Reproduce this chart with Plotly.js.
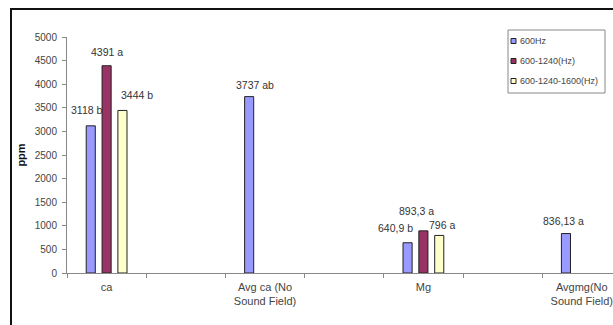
<!DOCTYPE html>
<html>
<head>
<meta charset="utf-8">
<script src="https://cdn.plot.ly/plotly-3.0.1.min.js"></script>
<style>
html,body{margin:0;padding:0;overflow:hidden;background:#fff;}
#chart{position:absolute;left:0;top:0;width:613px;height:325px;}
#frame{position:absolute;left:10px;top:8px;width:700px;height:400px;border-left:2px solid #111;border-top:2px solid #111;pointer-events:none;}
</style>
</head>
<body>
<div id="chart"></div>
<div id="frame"></div>
<script>
// ---- data ----
const categories = ["ca", "Avg ca (No<br>Sound Field)", "Mg", "Avgmg(No<br>Sound Field)"];
const seriesNames = ["600Hz", "600-1240(Hz)", "600-1240-1600(Hz)"];
const values600 = [3118, 3737, 640.9, 836.13];
const values1240 = [4391, null, 893.3, null];
const values1600 = [3444, null, 796, null];
const labels600 = ["3118 b", "3737 ab", "640,9 b", "836,13 a"];
const labels1240 = ["4391 a", null, "893,3 a", null];
const labels1600 = ["3444 b", null, "796 a", null];
const yTicks = [0, 500, 1000, 1500, 2000, 2500, 3000, 3500, 4000, 4500, 5000];

// ---- style ----
const colors = ["#9999FF", "#993366", "#FFFFCC"];
const barWidth = 0.115;
const barCenterOffsets = [-0.2, 0, 0.2];
// label pixel nudges [dx, dy] per series per category (style only)
const labelNudges = [
  [[-4, 16], [6, 12], [-12, 15], [-2, 13]],
  [[0, 14], null, [-7, 20], null],
  [[15, 15], null, [3, 10], null]
];

const slotPos = categories.map((c, i) => 2 * i + 0.5);
const allValues = [values600, values1240, values1600];
const allLabels = [labels600, labels1240, labels1600];

const traces = allValues.map((vals, s) => {
  const xs = [], ys = [];
  vals.forEach((v, i) => { if (v !== null) { xs.push(slotPos[i]); ys.push(v); } });
  return {
    type: "bar", name: seriesNames[s], x: xs, y: ys,
    width: barWidth, offset: barCenterOffsets[s] - barWidth / 2,
    marker: {color: colors[s], line: {color: "#222", width: 1}},
    showlegend: false, hoverinfo: "skip"
  };
});

const annotations = [];
allValues.forEach((vals, s) => {
  vals.forEach((v, i) => {
    if (v === null) return;
    const n = labelNudges[s][i];
    annotations.push({
      x: slotPos[i] + barCenterOffsets[s], y: v, xref: "x", yref: "y",
      text: allLabels[s][i], showarrow: false, xanchor: "center", yanchor: "middle",
      xshift: n[0], yshift: n[1],
      font: {family: "Liberation Sans, Arial, sans-serif", size: 10.5, color: "#333"}
    });
  });
});

// plot area in pixels
const L = 67, T = 37, W = 613 - 67, H = 273 - 37;
const px = x => (x - L) / W;
const py = y => (T + H - y) / H;

const shapes = [{
  type: "rect", xref: "paper", yref: "paper",
  x0: px(508), x1: px(605), y0: py(93), y1: py(30),
  line: {color: "#888", width: 1}, fillcolor: "#fff"
}];
const legendY = [41, 61, 81];
seriesNames.forEach((nm, s) => {
  shapes.push({
    type: "rect", xref: "paper", yref: "paper",
    x0: px(511), x1: px(516), y0: py(legendY[s] + 2.5), y1: py(legendY[s] - 2.5),
    line: {color: "#222", width: 1}, fillcolor: colors[s]
  });
  annotations.push({
    xref: "paper", yref: "paper", x: px(518), y: py(legendY[s]),
    xanchor: "left", yanchor: "middle", showarrow: false, text: nm,
    font: {family: "Liberation Sans, Arial, sans-serif", size: 9, color: "#444"}
  });
});

const tickFont = {family: "Liberation Sans, Arial, sans-serif", size: 10, color: "#444"};
const xRangeMax = W / 79.2;

const layout = {
  width: 613, height: 325,
  margin: {l: L, r: 0, t: T, b: 325 - 273, pad: 0},
  paper_bgcolor: "#fff", plot_bgcolor: "#fff",
  barmode: "overlay", showlegend: false,
  xaxis: {
    range: [0, xRangeMax], tickvals: [0, 1, 2, 3, 4, 5, 6, 7, 8],
    ticktext: ["", "", "", "", "", "", "", "", ""],
    ticks: "outside", ticklen: 4, tickcolor: "#888",
    showline: true, linecolor: "#888", linewidth: 1,
    showgrid: false, zeroline: false, fixedrange: true
  },
  xaxis2: {
    overlaying: "x", anchor: "y", side: "bottom", matches: "x",
    range: [0, xRangeMax], tickvals: slotPos, ticktext: categories,
    ticks: "", showline: false, showgrid: false, zeroline: false,
    tickfont: {family: "Liberation Sans, Arial, sans-serif", size: 11, color: "#444"},
    ticklabelstandoff: 6
  },
  yaxis: {
    range: [0, 5000], tickvals: yTicks, ticktext: yTicks.map(String),
    ticks: "outside", ticklen: 4, tickcolor: "#888",
    showline: true, linecolor: "#888", linewidth: 1,
    showgrid: false, zeroline: false, tickfont: tickFont, ticklabelstandoff: 3,
    title: {text: "ppm", font: {family: "Liberation Sans, Arial, sans-serif", size: 11, color: "#111", weight: "bold"}, standoff: 6}
  },
  shapes: shapes,
  annotations: annotations
};

// dummy trace to activate xaxis2
traces.push({type: "scatter", x: [], y: [], xaxis: "x2", yaxis: "y", showlegend: false, hoverinfo: "skip"});

Plotly.newPlot("chart", traces, layout, {staticPlot: true, displayModeBar: false});
</script>
</body>
</html>
